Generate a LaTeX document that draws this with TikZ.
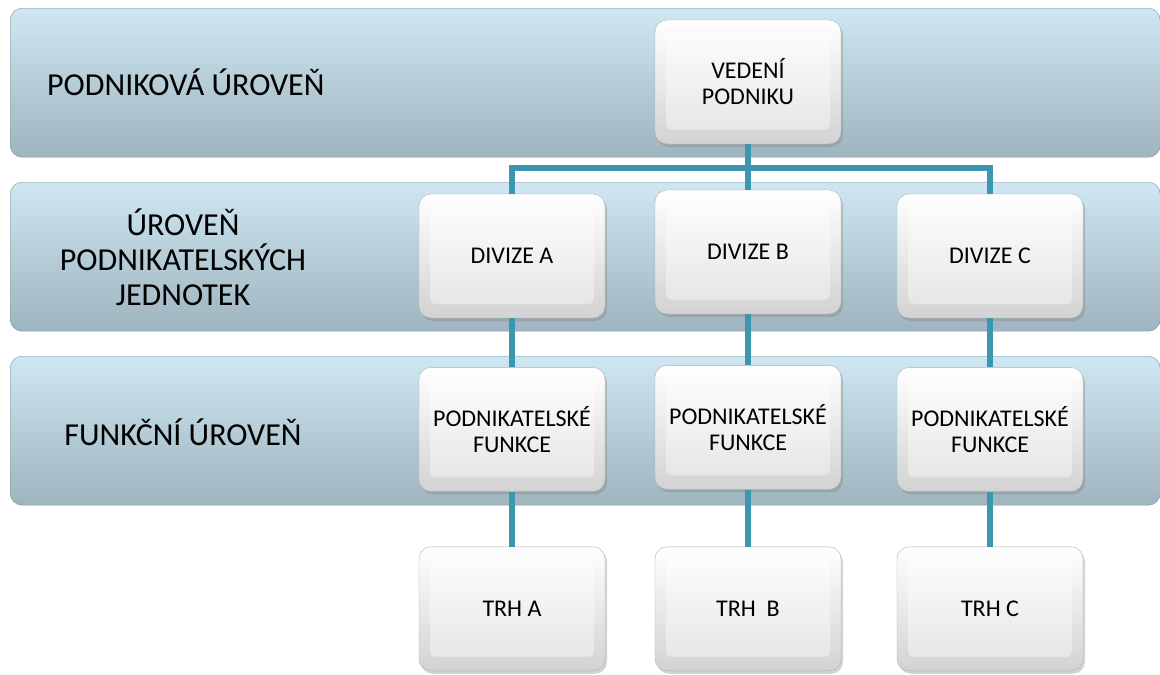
\documentclass[tikz,border=0pt]{standalone}
\usepackage{fontspec}
\setmainfont{Carlito}
\usetikzlibrary{positioning, shadows}
\definecolor{bandtop}{RGB}{206,231,242}
\definecolor{bandbot}{RGB}{158,180,190}
\definecolor{bandline}{RGB}{125,145,155}
\definecolor{linkcol}{RGB}{60,150,175}
\tikzstyle{band}=[draw=bandline, rounded corners=12pt, top color=bandtop,
  bottom color=bandbot, minimum width=1150pt, minimum height=149pt,
  anchor=north west, inner sep=0pt]
\tikzstyle{block}=[draw=gray!60, rounded corners=12pt, top color=white,
  bottom color=gray!35, minimum width=186pt, minimum height=124pt,
  align=center, font=\fontsize{24}{26}\selectfont,
  drop shadow={opacity=.35, shadow xshift=2pt, shadow yshift=-3pt},
  path picture={\shade[top color=white, bottom color=gray!22,
    rounded corners=6pt]
    ([shift={(11pt,-12pt)}]path picture bounding box.north west) rectangle
    ([shift={(-11pt,14pt)}]path picture bounding box.south east);}]
\tikzstyle{level}=[font=\fontsize{32}{35}\selectfont, align=center, inner sep=0pt]
\tikzstyle{link}=[draw=linkcol, line width=6pt]

\begin{document}
\begin{tikzpicture}[x=1pt,y=-1pt]
  \useasboundingbox (0,0) rectangle (1160,675);
  % levels
  \node[band] (corp) at (10,8) {};
  \node[band] (unit) at (10,182) {};
  \node[band] (func) at (10,356) {};
  \node[level, anchor=west] (corplab) at (47,82) {PODNIKOVÁ ÚROVEŇ};
  \node[level] (unitlab) at (183,257) {ÚROVEŇ\\PODNIKATELSKÝCH\\JEDNOTEK};
  \node[level] (funclab) at (183,432) {FUNKČNÍ ÚROVEŇ};
  % boxes
  \node[block] (top) at (748,82) {VEDENÍ\\PODNIKU};
  \node[block] (divA) at (512,256) {DIVIZE A};
  \node[block] (divB) at (748,252) {DIVIZE B};
  \node[block] (divC) at (990,256) {DIVIZE C};
  \node[block, below=49pt of divA] (funA) {PODNIKATELSKÉ\\FUNKCE};
  \node[block, below=51pt of divB] (funB) {PODNIKATELSKÉ\\FUNKCE};
  \node[block, below=49pt of divC] (funC) {PODNIKATELSKÉ\\FUNKCE};
  \node[block, below=55pt of funA] (mktA) {TRH A};
  \node[block, below=57pt of funB] (mktB) {TRH\ \ B};
  \node[block, below=55pt of funC] (mktC) {TRH C};
  % links
  \coordinate (bus) at (748,168);
  \draw[link] (top.south) -- (bus);
  \draw[link] (divA.north) |- (bus) -| (divC.north);
  \draw[link] (bus) -- (divB.north);
  \draw[link] (divA) -- (funA);
  \draw[link] (divB) -- (funB);
  \draw[link] (divC) -- (funC);
  \draw[link] (funA) -- (mktA);
  \draw[link] (funB) -- (mktB);
  \draw[link] (funC) -- (mktC);
\end{tikzpicture}
\end{document}
